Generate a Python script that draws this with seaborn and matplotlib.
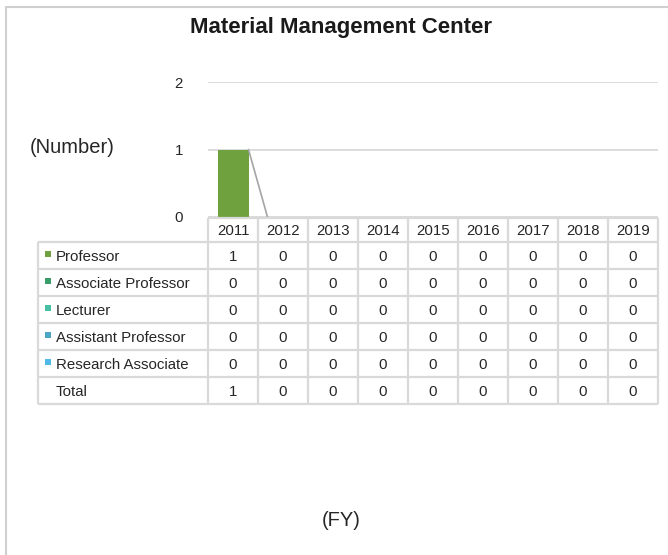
"""
staff count chart with data table (Excel style)
"""

import seaborn as sns
import matplotlib.pyplot as plt
import pandas as pd
from matplotlib.lines import Line2D

years = ["2011", "2012", "2013", "2014", "2015", "2016", "2017", "2018", "2019"]
professor = [1, 0, 0, 0, 0, 0, 0, 0, 0]
associate_professor = [0, 0, 0, 0, 0, 0, 0, 0, 0]
lecturer = [0, 0, 0, 0, 0, 0, 0, 0, 0]
assistant_professor = [0, 0, 0, 0, 0, 0, 0, 0, 0]
research_associate = [0, 0, 0, 0, 0, 0, 0, 0, 0]

series_names = ["Professor", "Associate Professor", "Lecturer",
                "Assistant Professor", "Research Associate"]
series_colors = ["#70a13f", "#3a9c6b", "#45c1a1", "#4ba6c6", "#4fb9ea"]

df = pd.DataFrame({
    "year": years,
    "Professor": professor,
    "Associate Professor": associate_professor,
    "Lecturer": lecturer,
    "Assistant Professor": assistant_professor,
    "Research Associate": research_associate,
})
df["Total"] = df[series_names].sum(axis=1)
df["pos"] = range(len(years))

long = df.melt(id_vars=["year", "pos"], value_vars=series_names,
               var_name="rank", value_name="count")

sns.set_theme(style="white")
plt.rcParams["font.family"] = ["Liberation Sans", "DejaVu Sans"]

W, H = 668, 555
fig = plt.figure(figsize=(W / 100, H / 100), dpi=100)


def fx(px):
    return px / W


def fy(py):
    return 1 - py / H


grid_col = "#d9d9d9"
text_col = "#262626"
bar_width = 0.62
fs = 10.8

# bar chart
ax = fig.add_axes([fx(208), fy(217), fx(658) - fx(208), fy(82) - fy(217)])
sns.histplot(data=long, x="pos", weights="count", hue="rank",
             hue_order=series_names, palette=series_colors,
             multiple="stack", discrete=True, shrink=bar_width,
             linewidth=0, alpha=1, legend=False, ax=ax)

# series lines between stacked bar tops (the ones lying on the axis are hidden)
tot = df["Total"].tolist()
for i in range(len(tot) - 1):
    if tot[i] == 0 and tot[i + 1] == 0:
        continue
    ax.plot([i + bar_width / 2, i + 1 - bar_width / 2], [tot[i], tot[i + 1]],
            color="#a5a5a5", lw=1.2, zorder=3)

ax.set_xlim(-0.5, len(years) - 0.5)
ax.set_ylim(0, 2)
ax.set_yticks([0, 1, 2])
ax.set_xticks([])
ax.set_xlabel("")
ax.set_ylabel("")
ax.yaxis.grid(True, color=grid_col, lw=1.3)
ax.set_axisbelow(True)
ax.tick_params(axis="y", length=0, pad=18, labelsize=fs, labelcolor=text_col)
for s in ax.spines.values():
    s.set_visible(False)

# data table
tax = fig.add_axes([fx(38), fy(404), fx(658) - fx(38), fy(218) - fy(404)])
tax.set_xlim(-3.9, len(years) - 0.5)
tax.set_ylim(404, 218)
tax.axis("off")

row_edges = [242, 269, 296, 323, 350, 377, 404]
line_kw = dict(color=grid_col, lw=1.6, clip_on=False, solid_capstyle="butt")
tax.plot([-0.5, len(years) - 0.5], [218, 218], **line_kw)
for y in row_edges:
    tax.plot([-3.9, len(years) - 0.5], [y, y], **line_kw)
tax.plot([-3.9, -3.9], [242, 404], **line_kw)
for i in range(len(years) + 1):
    tax.plot([i - 0.5, i - 0.5], [218, 404], **line_kw)

for i, y in enumerate(years):
    tax.text(i, 231, y, ha="center", va="center", fontsize=fs, color=text_col)

row_names = series_names + ["Total"]
for r, name in enumerate(row_names):
    yc = (row_edges[r] + row_edges[r + 1]) / 2
    if name != "Total":
        tax.scatter([-3.71], [yc - 1.5], marker="s", s=16,
                    color=series_colors[r], linewidths=0, clip_on=False)
    tax.text(-3.54, yc + 1.5, name, ha="left", va="center", fontsize=fs,
             color=text_col)
    for i, v in enumerate(df[name]):
        tax.text(i, yc + 1.5, str(v), ha="center", va="center", fontsize=fs,
                 color=text_col)

fig.text(fx(341), fy(28), "Material Management Center", ha="center",
         va="center", fontsize=16, weight="bold", color="#1a1a1a")
fig.text(fx(72), fy(148), "(Number)", ha="center", va="center",
         fontsize=14.5, color=text_col)
fig.text(fx(341), fy(521), "(FY)", ha="center", va="center",
         fontsize=14.5, color=text_col)

# chart frame
fig.add_artist(Line2D([fx(6), fx(6)], [fy(7), 0], color="#d0d0d0", lw=1.5))
fig.add_artist(Line2D([fx(6), 1], [fy(7), fy(7)], color="#d0d0d0", lw=1.5))

fig.savefig("out.png", dpi=100)
